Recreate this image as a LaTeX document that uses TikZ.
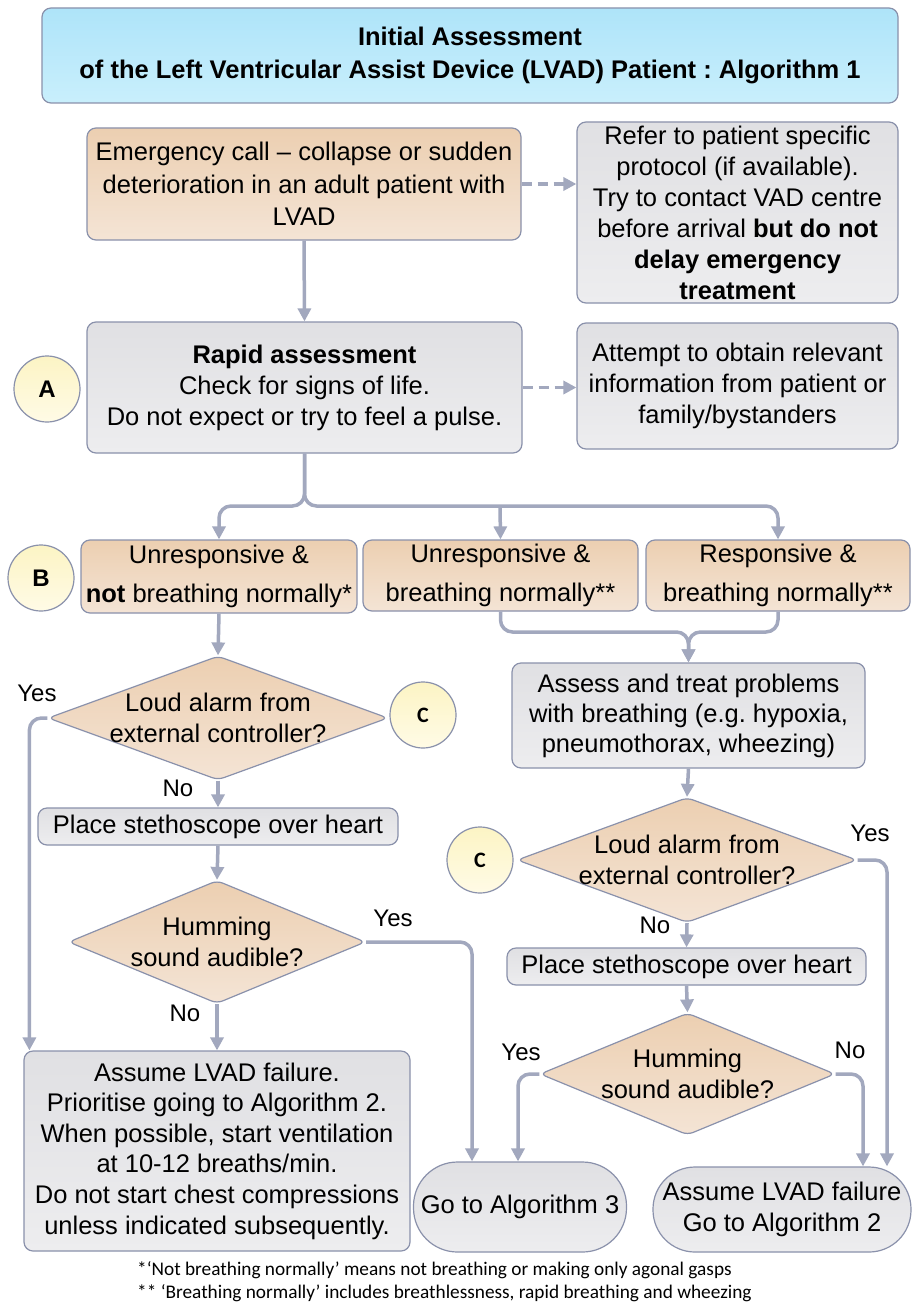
\documentclass[tikz,border=0pt]{standalone}
\usepackage{fontspec}
\setmainfont{Liberation Sans}
\newfontfamily\calf{Carlito}
\usetikzlibrary{shapes.geometric,arrows.meta}
\definecolor{bordc}{HTML}{8A91AB}
\definecolor{connc}{HTML}{A2A8BE}
\definecolor{orA}{HTML}{ECCFB1}
\definecolor{orB}{HTML}{F4E4D5}
\definecolor{grA}{HTML}{E0E0E3}
\definecolor{grB}{HTML}{EDEDEF}
\definecolor{blA}{HTML}{AEE4F9}
\definecolor{blB}{HTML}{C9EFFC}
\definecolor{ylA}{HTML}{FCF4C4}
\definecolor{ylB}{HTML}{FFFBE6}
\newcommand\bodyfont{\fontsize{25.5}{31}\selectfont}
\frenchspacing
\tikzset{
  box/.style={draw=bordc, line width=1.2pt, rounded corners=9pt, align=center, inner sep=0pt, font=\bodyfont, text=black},
  obox/.style={box, top color=orA, bottom color=orB},
  gbox/.style={box, top color=grA, bottom color=grB},
  tbox/.style={box, top color=blA, bottom color=blB},
  dia/.style={shape=diamond, draw=bordc, line width=1.2pt, top color=orA, bottom color=orB, inner sep=0pt, rounded corners=6pt},
  diatext/.style={align=center, font=\bodyfont, text=black, inner sep=0pt},
  circ/.style={circle, draw=bordc, line width=1.2pt, top color=ylA, bottom color=ylB, minimum size=66pt, inner sep=0pt, text=black},
  conn/.style={draw=connc, line width=3.5pt, line join=round, rounded corners=12pt, -{Triangle[length=13pt,width=13pt]}},
  dconn/.style={draw=connc, line width=3.5pt, dash pattern=on 10pt off 6pt, -{Triangle[length=13pt,width=13pt]}},
  lbl/.style={font=\fontsize{24}{28}\selectfont, inner sep=0pt, text=black},
  foot/.style={font=\calf\fontsize{19.3}{23}\selectfont, inner sep=0pt, anchor=west, text=black}
}
\begin{document}
\begin{tikzpicture}[x=1pt,y=-1pt]
\useasboundingbox (0,0) rectangle (912,1303);
\fill[white] (0,0) rectangle (912,1303);

% title
\node[tbox, minimum width=856pt, minimum height=95pt, font=\bfseries\fontsize{25.5}{33}\selectfont] (title) at (470,55.5)
  {Initial Assessment\\of the Left Ventricular Assist Device (LVAD) Patient : Algorithm 1};

% top row
\node[obox, minimum width=434pt, minimum height=112pt, font=\fontsize{25.5}{32.5}\selectfont] (emerg) at (304,184)
  {Emergency call -- collapse or sudden\\deterioration in an adult patient with\\LVAD};
\node[gbox, minimum width=321pt, minimum height=181pt] (refer) at (737.5,212.5)
  {Refer to patient specific\\protocol (if available).\\Try to contact VAD centre\\before arrival \textbf{but do not}\\\textbf{delay emergency}\\\textbf{treatment}};

\node[gbox, minimum width=435pt, minimum height=131pt] (rapid) at (304.5,387.5)
  {\textbf{Rapid assessment}\\Check for signs of life.\\Do not expect or try to feel a pulse.};
\node[gbox, minimum width=321pt, minimum height=126pt] (attempt) at (737.5,386)
  {Attempt to obtain relevant\\information from patient or\\family/bystanders};
\node[circ, font=\bfseries\fontsize{24}{28}\selectfont] (circA) at (47,389) {A};

% B row
\node[obox, minimum width=276pt, minimum height=73pt] (b1) at (219,576.5)
  {Unresponsive \&\\[8pt]\textbf{not} breathing normally*};
\node[obox, minimum width=275pt, minimum height=71pt] (b2) at (500.5,575.5)
  {Unresponsive \&\\[8pt]breathing normally**};
\node[obox, minimum width=264pt, minimum height=71pt] (b3) at (778,575.5)
  {Responsive \&\\[8pt]breathing normally**};
\node[circ, font=\bfseries\fontsize{24}{28}\selectfont] (circB) at (41,578) {B};

% right column
\node[gbox, minimum width=353pt, minimum height=105pt, font=\fontsize{25.5}{30}\selectfont] (assess) at (688.5,715.5)
  {Assess and treat problems\\with breathing (e.g. hypoxia,\\pneumothorax, wheezing)};

% left column
\node[dia, minimum width=340pt, minimum height=124pt, label={[diatext]center:Loud alarm from\\external controller?}] (d1) at (218,718) {};
\node[circ, font=\calf\bfseries\fontsize{22}{24}\selectfont] (circC1) at (423,715) {C};
\node[gbox, minimum width=360pt, minimum height=37pt] (place1) at (218,826.5) {Place stethoscope over heart};
\node[dia, minimum width=297pt, minimum height=123pt, label={[diatext]center:Humming\\sound audible?}] (d2) at (217,942) {};
\node[gbox, minimum width=386pt, minimum height=200pt, font=\fontsize{25.5}{30.6}\selectfont] (assume1) at (217,1151)
  {Assume LVAD failure.\\Prioritise going to Algorithm 2.\\When possible, start ventilation\\at 10-12 breaths/min.\\Do not start chest compressions\\unless indicated subsequently.};
\node[gbox, rounded corners=44pt, minimum width=213pt, minimum height=90pt] (go3) at (520,1207) {Go to Algorithm 3};

\node[dia, minimum width=340pt, minimum height=125pt, label={[diatext]center:Loud alarm from\\external controller?}] (d3) at (687,860) {};
\node[circ, font=\calf\bfseries\fontsize{22}{24}\selectfont] (circC2) at (480,860) {C};
\node[gbox, minimum width=359pt, minimum height=37pt] (place2) at (686.5,966.5) {Place stethoscope over heart};
\node[dia, minimum width=295pt, minimum height=122pt, label={[diatext]center:Humming\\sound audible?}] (d4) at (687.5,1074) {};
\node[gbox, rounded corners=42pt, minimum width=258pt, minimum height=85pt] (assume2) at (782,1209.5)
  {Assume LVAD failure\\Go to Algorithm 2};

% connectors
\draw[dconn] (emerg.east) -- (emerg.east -| refer.west);
\draw[dconn] (rapid.east) -- (rapid.east -| attempt.west);
\draw[conn] (emerg.south) -- (rapid.north);

\coordinate (split) at (500,506);
\draw[conn] (rapid.south) -- (304.5,506) -| (b1.north);
\draw[conn] (rapid.south) -- (304.5,506) -| (b3.north);
\draw[conn, rounded corners=0pt] (split) -- (b2.north);

\coordinate (merge) at (688.5,632);
\draw[conn] (b2.south) |- (merge) -- (assess.north);
\draw[conn] (b3.south) |- (merge) -- (assess.north);

\draw[conn] (b1.south) -- (d1.north);
\draw[conn] (d1.south) -- (place1.north);
\draw[conn] (place1.south) -- (d2.north);
\draw[conn] (d2.south) -- (assume1.north);
\draw[conn] (d1.west) -| ([xshift=6pt]assume1.north west);
\draw[conn] (d2.east) -| ([xshift=-48pt]go3.north);

\draw[conn] (assess.south) -- (d3.north);
\draw[conn] (d3.south) -- (place2.north);
\draw[conn] (place2.south) -- (d4.north);
\draw[conn] (d3.east) -| ([xshift=105pt]assume2.north);
\draw[conn] (d4.west) -| ([xshift=-2pt]go3.north);
\draw[conn] (d4.east) -| ([xshift=81pt]assume2.north);

% yes / no labels
\node[lbl] (y1) at (37,693) {Yes};
\node[lbl] (n1) at (178,788) {No};
\node[lbl] (y2) at (393,918) {Yes};
\node[lbl] (n2) at (185,1013) {No};
\node[lbl] (y3) at (870,833) {Yes};
\node[lbl] (n3) at (655,925) {No};
\node[lbl] (y4) at (521,1052) {Yes};
\node[lbl] (n4) at (850,1050) {No};

% footnotes
\node[foot] (f1) at (137,1270) {*‘Not breathing normally’ means not breathing or making only agonal gasps};
\node[foot] (f2) at (137,1293) {** ‘Breathing normally’ includes breathlessness, rapid breathing and wheezing};
\end{tikzpicture}
\end{document}
